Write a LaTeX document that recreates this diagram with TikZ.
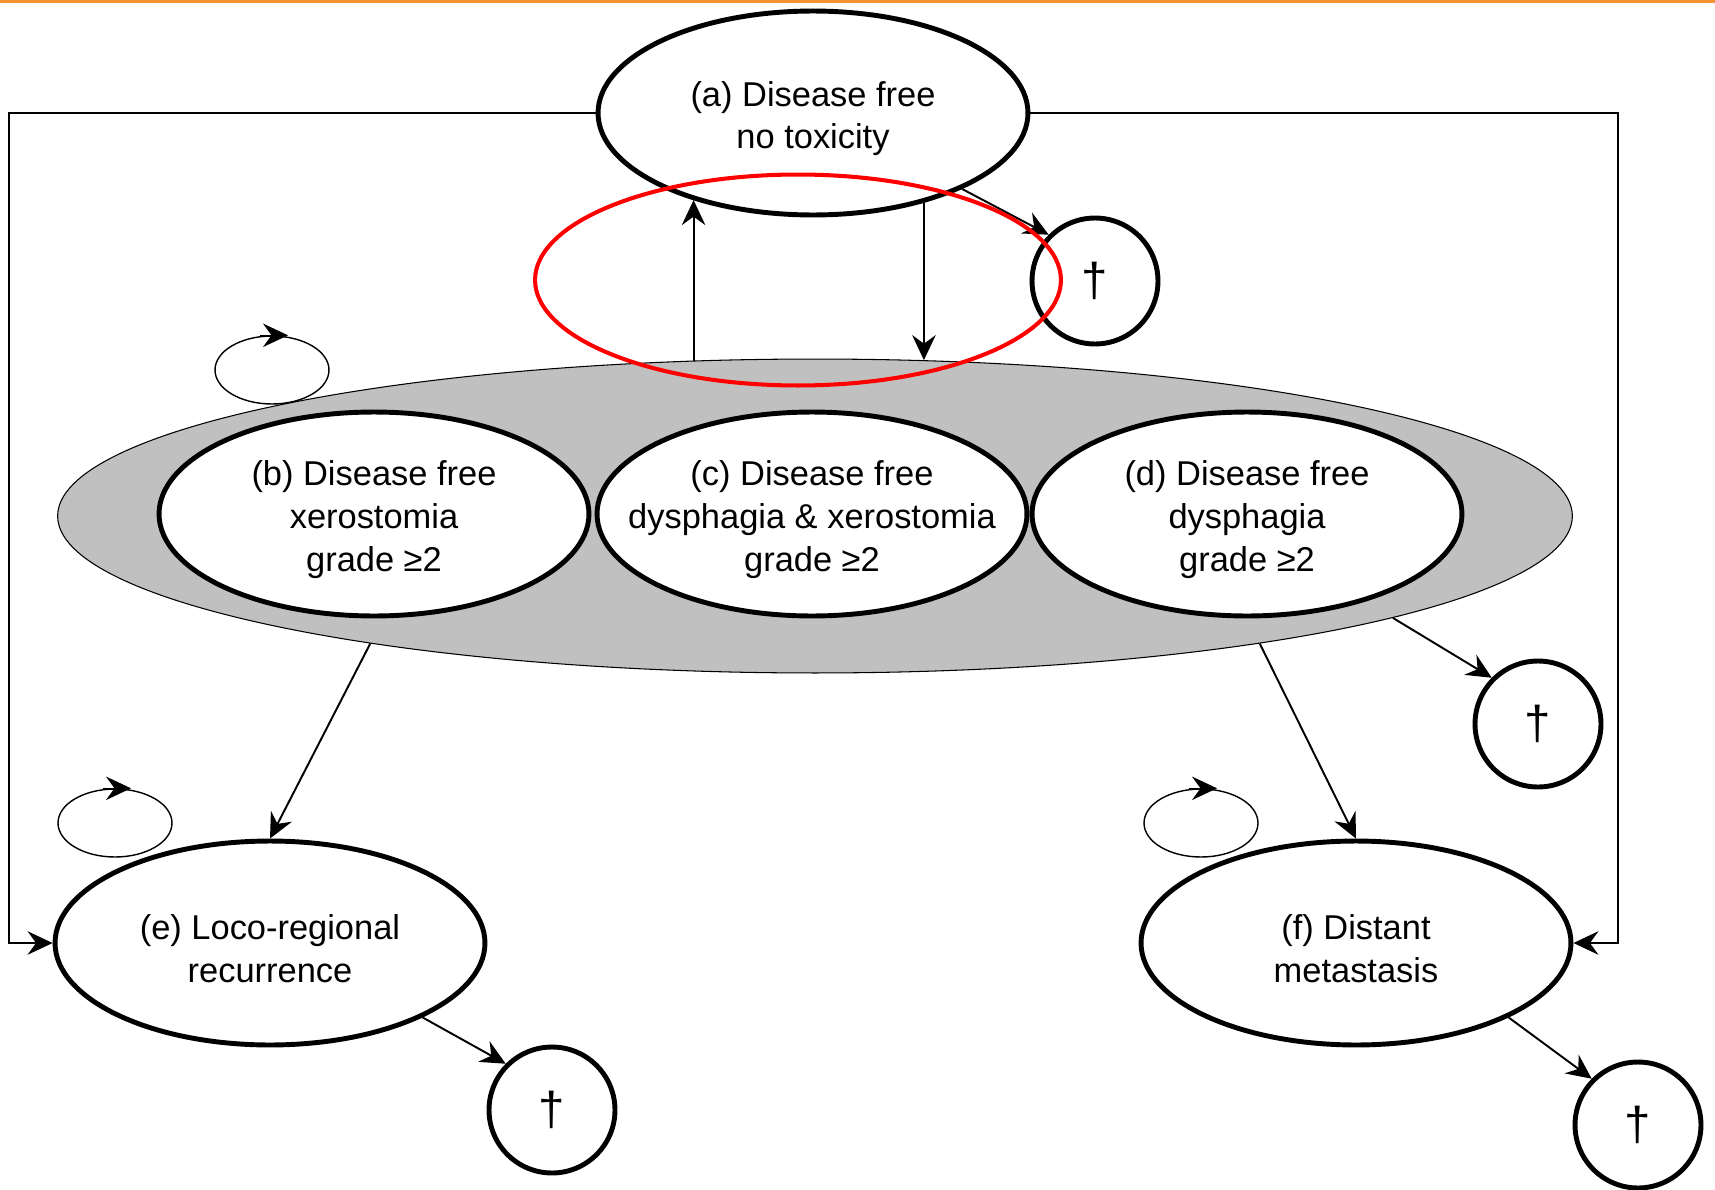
\documentclass[tikz,border=0pt]{standalone}
\usepackage{fontspec}
\setmainfont{Liberation Sans}
\usepackage{xcolor}
\usetikzlibrary{positioning, shapes}
\usetikzlibrary{arrows.meta, calc}
\definecolor{topbar}{RGB}{245,146,50}
\definecolor{groupgray}{RGB}{192,192,192}
\newcommand{\lift}{\rule{0pt}{1.05em}}

\begin{document}
\begin{tikzpicture}[x=0.02cm, y=-0.02cm]
            \tikzset{state/.style = {ellipse, draw, line width=2.8pt, fill=white, minimum width=8.6cm, minimum height=4.08cm, inner sep=0pt, inner xsep=-1.5cm, align=center, font=\fontsize{19.6}{24.2}\selectfont}}
            \tikzset{death/.style = {circle, draw, line width=2.8pt, fill=white, minimum size=2.52cm, inner sep=0pt, font=\fontsize{27}{30}\selectfont}}
            \tikzset{selfloop/.style = {ellipse, draw, line width=0.8pt, minimum width=2.28cm, minimum height=1.36cm, inner sep=0pt}}
            \tikzset{arr/.style = {-{Stealth[length=0.5cm, width=0.47cm, inset=0.17cm]}, line width=1.1pt}}
            \tikzset{looptip/.style = {-{Stealth[length=0.5cm, width=0.47cm, inset=0.17cm]}, line width=0.8pt}}

            \useasboundingbox (0,0) rectangle (1715,1190);
            \fill[topbar] (0,0) rectangle (1715,3);

            \coordinate (leftrail) at (9,0);
            \coordinate (rightrail) at (1618,0);

            \node[ellipse, draw, line width=0.6pt, fill=groupgray, minimum width=30.3cm, minimum height=6.28cm, inner sep=0pt] (group) at (815,516) {};

            \node[selfloop] (loopB) at (272,370) {};
            \node[selfloop] (loopE) at (115,823) {};
            \node[selfloop] (loopF) at (1201,823) {};

            \node[state] (a) at (813,113) {\lift(a) Disease free\\no toxicity};
            \node[state] (b) at (374,514) {\lift(b) Disease free\\xerostomia\\grade ≥2};
            \node[state] (c) at (812,514) {\lift(c) Disease free\\dysphagia \& xerostomia\\grade ≥2};
            \node[state] (d) at (1247,514) {\lift(d) Disease free\\dysphagia\\grade ≥2};
            \node[state] (e) at (270,943) {\lift(e) Loco-regional\\recurrence};
            \node[state] (f) at (1356,943) {\lift(f) Distant\\metastasis};

            \node[death] (dagA) at (1095,281) {†};
            \node[death] (dagD) at (1538,724) {†};
            \node[death] (dagE) at (552,1110) {†};
            \node[death] (dagF) at (1638,1125) {†};

            % arrows
            \draw[arr] (a.west) -- (a.west -| leftrail) |- (e.west);
            \draw[arr] (a.east) -- (a.east -| rightrail) |- (f.east);
            \draw[arr] (group.128) -- (group.128 |- a.216);
            \draw[arr] (a.321) -- (a.321 |- group.55);
            \draw[arr] (a.333) -- (dagA.north west);
            \draw[arr] (group.350) -- (dagD.north west);
            \draw[arr] (group.196) -- (e.north);
            \draw[arr] (group.344) -- (f.north);
            \draw[arr] (e.334) -- (dagE.north west);
            \draw[arr] (f.334) -- (dagF.north west);

            % self loops
            \draw[looptip] ($(loopB.north)+(-12,0)$) -- ($(loopB.north)+(16,0)$);
            \draw[looptip] ($(loopE.north)+(-12,0)$) -- ($(loopE.north)+(16,0)$);
            \draw[looptip] ($(loopF.north)+(-12,0)$) -- ($(loopF.north)+(16,0)$);

            \node[ellipse, draw=red, line width=2.3pt, minimum width=10.52cm, minimum height=4.22cm, inner sep=0pt] (focus) at (798,280) {};

        \end{tikzpicture}
\end{document}
